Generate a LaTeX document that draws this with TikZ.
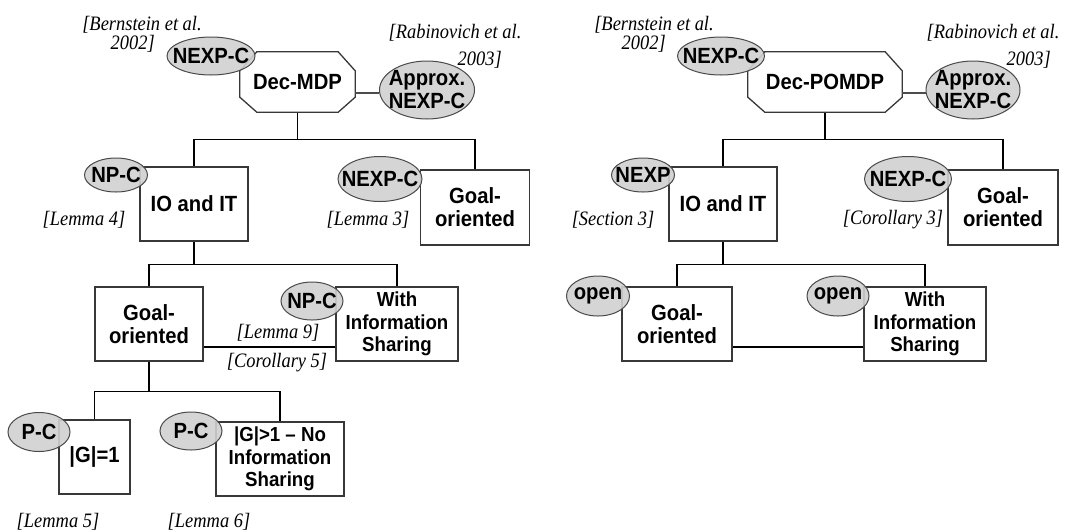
\documentclass[tikz,border=0pt]{standalone}
\usepackage{fontspec}
\setmainfont{Liberation Serif}[FakeStretch=0.9]
\newfontfamily\sansb{Liberation Sans}[FakeStretch=0.92]
\usetikzlibrary{shapes.geometric}
\definecolor{elfill}{HTML}{D0D0D0}
\definecolor{elc}{HTML}{4A4A4A}
\definecolor{boxc}{HTML}{383838}
\newcommand{\boxfont}{\sansb\bfseries\fontsize{22}{23}\selectfont}
\newcommand{\boxfontsm}{\sansb\bfseries\fontsize{20.3}{22.5}\selectfont}
\newcommand{\citefont}{\rmfamily\itshape\fontsize{20.5}{21}\selectfont}
\newcommand{\octpath}[1]{%
  \draw[octline] ([xshift=17pt]#1.north west) -- ([xshift=-17pt]#1.north east)
    -- ([yshift=-19pt]#1.north east) -- ([yshift=15pt]#1.south east)
    -- ([xshift=-17pt]#1.south east) -- ([xshift=17pt]#1.south west)
    -- ([yshift=15pt]#1.south west) -- ([yshift=-19pt]#1.north west) -- cycle;}
\tikzset{
  boxn/.style={draw=boxc, line width=1.3pt, fill=white, font=\boxfont, align=center, inner sep=0pt},
  boxsm/.style={boxn, font=\boxfontsm},
  octn/.style={font=\boxfont, align=center, inner sep=0pt, minimum height=60pt},
  octline/.style={draw=boxc, line width=1.3pt, fill=white},
  gel/.style={ellipse, draw=elc, fill=elfill, fill opacity=0.9, line width=1pt, inner sep=0pt},
  elabel/.style={font=\boxfont, align=center, inner sep=0pt, text opacity=1},
  cite/.style={font=\citefont, inner sep=0pt},
  conn/.style={line width=1.2pt, draw=black},
}
\begin{document}
\begin{tikzpicture}[x=1pt,y=-1pt]
\useasboundingbox (0,0) rectangle (1070,531);

% ---------------- Left panel ----------------
\node[octn, minimum width=115pt] (oct1) at (297.5,82) {};
\node[boxn, minimum width=108pt, minimum height=74pt] (io1) at (194,204) {IO and IT};
\node[boxn, minimum width=109pt, minimum height=75pt] (go1) at (475,207.5) {Goal-\\oriented};
\node[boxn, minimum width=108pt, minimum height=74pt] (go2) at (149,324) {Goal-\\oriented};
\node[boxsm, minimum width=122pt, minimum height=74pt] (is2) at (397,324) {With\\Information\\Sharing};
\node[boxn, minimum width=71pt, minimum height=74pt] (g1) at (94.5,457) {|G|=1};
\node[boxsm, minimum width=128pt, minimum height=74pt] (g2) at (280,459) {|G|>1 – No\\Information\\Sharing};

\draw[conn] (oct1.south) -- ++(0,27) coordinate (j1);
\draw[conn] (j1) -| (io1.north);
\draw[conn] (j1) -| (go1.north);
\draw[conn] (io1.south) -- ++(0,23) coordinate (j2);
\draw[conn] (j2) -| (go2.north);
\draw[conn] (j2) -| (is2.north);
\draw[conn] ([yshift=-23pt]go2.east) -- ([yshift=-23pt]go2.east -| is2.west);
\draw[conn] (go2.south) -- ++(0,30) coordinate (j3);
\draw[conn] (j3) -| (g1.north);
\draw[conn] (j3) -| (g2.north);

\octpath{oct1}
\node[font=\boxfont] at (oct1) {Dec-MDP};

\node[gel, minimum width=95pt, minimum height=58pt, label={[elabel]center:{Approx.\\NEXP-C}}] (e2) at (427,90) {};
\draw[conn, draw=black!70] ([yshift=-11pt]oct1.east) -- ([yshift=-11pt]oct1.east -| e2.west);
\node[gel, minimum width=88pt, minimum height=38pt, label={[elabel]center:NEXP-C}] (e1) at (211,56) {};
\node[gel, minimum width=63pt, minimum height=34pt, label={[elabel]center:NP-C}] (np1) at (116,175) {};
\node[gel, minimum width=84pt, minimum height=45pt, label={[elabel]center:NEXP-C}] (e3) at (380,179) {};
\node[gel, minimum width=62pt, minimum height=38pt, label={[elabel]center:NP-C}] (np2) at (312,301) {};
\node[gel, minimum width=62pt, minimum height=39pt, label={[elabel]center:P-C}] (pc1) at (39,432) {};
\node[gel, minimum width=62pt, minimum height=38pt, label={[elabel]center:P-C}] (pc2) at (191,431) {};

\node[cite] (c1a) at (142,25) {[Bernstein et al.};
\node[cite, anchor=east] (c1b) at (155,44) {2002]};
\node[cite] (c2a) at (455,33) {[Rabinovich et al.};
\node[cite, anchor=east] (c2b) at (502,60) {2003]};
\node[cite] (c3) at (84,220) {[Lemma 4]};
\node[cite] (c4) at (368,220) {[Lemma 3]};
\node[cite] (c5) at (278,333) {[Lemma 9]};
\node[cite] (c6) at (277,363) {[Corollary 5]};
\node[cite] (c7) at (58,522) {[Lemma 5]};
\node[cite] (c8) at (209,522) {[Lemma 6]};

% ---------------- Right panel ----------------
\node[octn, minimum width=154pt] (oct2) at (825,82) {};
\node[boxn, minimum width=108pt, minimum height=74pt] (io3) at (723,204) {IO and IT};
\node[boxn, minimum width=110pt, minimum height=75pt] (go3) at (1003,207.5) {Goal-\\oriented};
\node[boxn, minimum width=110pt, minimum height=74pt] (go4) at (677,324) {Goal-\\oriented};
\node[boxsm, minimum width=122pt, minimum height=74pt] (is4) at (925,324) {With\\Information\\Sharing};

\draw[conn] (oct2.south) -- ++(0,27) coordinate (k1);
\draw[conn] (k1) -| (io3.north);
\draw[conn] (k1) -| (go3.north);
\draw[conn] (io3.south) -- ++(0,23) coordinate (k2);
\draw[conn] (k2) -| (go4.north);
\draw[conn] (k2) -| (is4.north);
\draw[conn] ([yshift=-23pt]go4.east) -- ([yshift=-23pt]go4.east -| is4.west);

\octpath{oct2}
\node[font=\boxfont] at (oct2) {Dec-POMDP};

\node[gel, minimum width=94pt, minimum height=58pt, label={[elabel]center:{Approx.\\NEXP-C}}] (e5) at (973,90) {};
\draw[conn, draw=black!70] ([yshift=-11pt]oct2.east) -- ([yshift=-11pt]oct2.east -| e5.west);
\node[gel, minimum width=87pt, minimum height=38pt, label={[elabel]center:NEXP-C}] (e4) at (721,56) {};
\node[gel, minimum width=63pt, minimum height=34pt, label={[elabel]center:NEXP}] (nx3) at (643,175) {};
\node[gel, minimum width=87pt, minimum height=45pt, label={[elabel]center:NEXP-C}] (e6) at (908,179) {};
\node[gel, minimum width=63pt, minimum height=40pt, label={[elabel]center:open}] (op1) at (598,296) {};
\node[gel, minimum width=62pt, minimum height=40pt, label={[elabel]center:open}] (op2) at (838,296) {};

\node[cite] (d1a) at (654,25) {[Bernstein et al.};
\node[cite, anchor=east] (d1b) at (666,44) {2002]};
\node[cite] (d2a) at (993,33) {[Rabinovich et al.};
\node[cite, anchor=east] (d2b) at (1051,60) {2003]};
\node[cite] (d3) at (613,220) {[Section 3]};
\node[cite] (d4) at (893,220) {[Corollary 3]};
\end{tikzpicture}
\end{document}
